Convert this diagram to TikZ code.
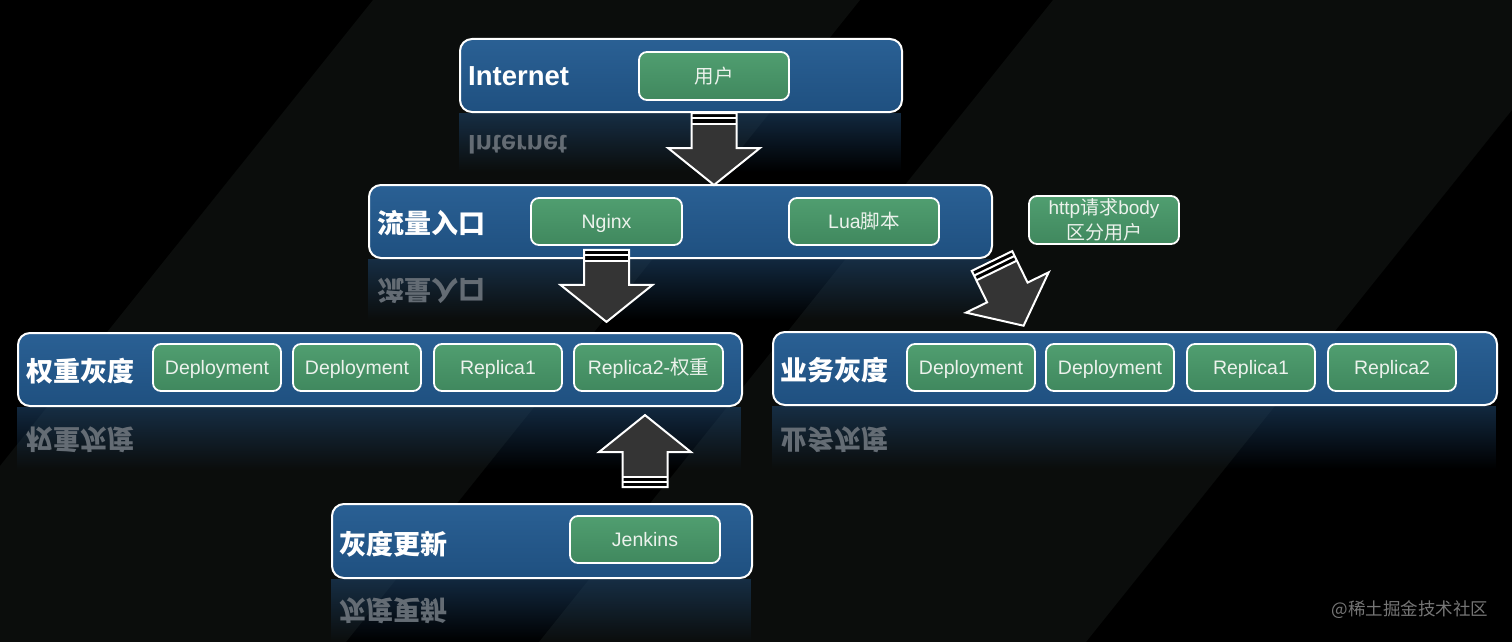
\documentclass[tikz,border=0pt]{standalone}
\usepackage{fontspec}
\setmainfont{Liberation Sans}
\newfontfamily\cjk{Noto Sans CJK SC}
\usetikzlibrary{calc,fadings}
\definecolor{bandgray}{RGB}{11,13,12}
\definecolor{bluetop}{RGB}{42,96,148}
\definecolor{bluebot}{RGB}{31,80,128}
\definecolor{greentop}{RGB}{80,158,112}
\definecolor{greenbot}{RGB}{64,136,94}
\definecolor{arrowgray}{RGB}{52,52,52}
\definecolor{reflblue}{RGB}{30,68,106}
\definecolor{reflgray}{RGB}{100,108,116}
\definecolor{gtext}{RGB}{236,242,236}
\definecolor{wmgray}{RGB}{118,118,118}
\tikzfading[name=reflfade, top color=transparent!40, bottom color=transparent!100]
\tikzset{
  bluebox/.style={draw=white, line width=2pt, rounded corners=12pt, top color=bluetop, bottom color=bluebot, anchor=north west, inner sep=0pt},
  gbox/.style={draw=white, line width=1.8pt, rounded corners=8pt, top color=greentop, bottom color=greenbot, minimum height=47pt, minimum width=128pt, text=gtext, font=\fontsize{19.5}{24}\selectfont, inner sep=0pt, text height=18pt, text depth=4pt},
  lbl/.style={anchor=west, text=white, inner sep=0pt, font=\fontsize{27}{30}\selectfont\bfseries},
  refl/.style={anchor=west, text=reflgray, inner sep=0pt, font=\fontsize{27}{30}\selectfont\bfseries},
  blockarrow/.pic={
    \fill[arrowgray] (-22.5,0) -- (22.5,0) -- (22.5,35) -- (46,35) -- (0,72) -- (-46,35) -- (-22.5,35) -- cycle;
    \fill[black] (-22.5,0) rectangle (22.5,11.5);
    \fill[white] (-22.5,4.3) rectangle (22.5,6.3);
    \fill[white] (-22.5,9.6) rectangle (22.5,11.6);
    \draw[white, line width=2pt, line join=miter] (-22.5,0) -- (22.5,0) -- (22.5,35) -- (46,35) -- (0,72) -- (-46,35) -- (-22.5,35) -- cycle;
  }
}
\begin{document}
\begin{tikzpicture}[x=1pt,y=-1pt]
\useasboundingbox (0,0) rectangle (1512,642);
% background
\fill[black] (0,0) rectangle (1512,642);
\begin{scope}
\clip (0,0) rectangle (1512,642);
\fill[bandgray] (373,0) -- (860,0) -- (346,642) -- (-141,642) -- cycle;
\fill[bandgray] (1053,0) -- (1600,0) -- (1086,642) -- (539,642) -- cycle;
\end{scope}

% reflections
\fill[reflblue, path fading=reflfade] (459,113) rectangle (901,172);
\fill[reflblue, path fading=reflfade] (368,259) rectangle (991,320);
\fill[reflblue, path fading=reflfade] (17,407) rectangle (741,470);
\fill[reflblue, path fading=reflfade] (772,406) rectangle (1496,469);
\fill[reflblue, path fading=reflfade] (331,579) rectangle (751,642);
\node[refl] (inetr) at (468,145) {\scalebox{1}[-1]{Internet}};
\node[refl] (flowr) at (377,291) {\scalebox{1}[-1]{\cjk 流量入口}};
\node[refl] (wgtr) at (26,440) {\scalebox{1}[-1]{\cjk 权重灰度}};
\node[refl] (bizr) at (780,440) {\scalebox{1}[-1]{\cjk 业务灰度}};
\node[refl] (updr) at (339,611) {\scalebox{1}[-1]{\cjk 灰度更新}};

% blue boxes
\node[bluebox, minimum width=442pt, minimum height=73pt] (inet) at (459,38) {};
\node[bluebox, minimum width=623pt, minimum height=73pt] (flow) at (368,184) {};
\node[bluebox, minimum width=724pt, minimum height=73pt] (wgt) at (17,332) {};
\node[bluebox, minimum width=724pt, minimum height=73pt] (biz) at (772,331) {};
\node[bluebox, minimum width=420pt, minimum height=74pt] (upd) at (331,503) {};

% labels
\node[lbl, font=\fontsize{27.5}{30}\selectfont\bfseries] (inetl) at ([xshift=9pt,yshift=-1pt]inet.west) {Internet};
\node[lbl] (flowl) at ([xshift=9pt,yshift=-2pt]flow.west) {\cjk\bfseries 流量入口};
\node[lbl] (wgtl) at ([xshift=9pt,yshift=-2pt]wgt.west) {\cjk\bfseries 权重灰度};
\node[lbl] (bizl) at ([xshift=8pt,yshift=-2pt]biz.west) {\cjk\bfseries 业务灰度};
\node[lbl] (updl) at ([xshift=8pt,yshift=-3pt]upd.west) {\cjk\bfseries 灰度更新};

% green boxes
\node[gbox, minimum width=150pt, minimum height=48pt] (user) at (714,76) {\cjk 用户};
\node[gbox, minimum width=151pt] (nginx) at (606.5,221.5) {Nginx};
\node[gbox, minimum width=150pt] (lua) at (864,221.5) {Lua\cjk 脚本};
\node[gbox] (wd1) at (217,367.5) {Deployment};
\node[gbox] (wd2) at (357,367.5) {Deployment};
\node[gbox] (wr1) at (498,367.5) {Replica1};
\node[gbox, minimum width=149pt] (wr2) at (648.5,367.5) {Replica2-{\cjk 权重}};
\node[gbox] (bd1) at (971,367.5) {Deployment};
\node[gbox] (bd2) at (1110,367.5) {Deployment};
\node[gbox] (br1) at (1251,367.5) {Replica1};
\node[gbox] (br2) at (1392,367.5) {Replica2};
\node[gbox, minimum width=150pt] (jenkins) at (645,539.5) {Jenkins};
\node[gbox, minimum width=150pt, minimum height=48pt, text height=, text depth=, align=center, font=\fontsize{19}{24.5}\selectfont] (http) at (1104,220) {http{\cjk 请求}body\\{\cjk 区分用户}};

% block arrows
\coordinate (a1) at (user.south |- inet.south);
\coordinate (a2) at ($(nginx.south)+(0,4)$);
\coordinate (a3) at ($(jenkins.north)+(0,-28)$);
\coordinate (a4) at ($(flow.south east)+(-1,2)$);
\pic at (a1) {blockarrow};
\pic at (a2) {blockarrow};
\pic[rotate=180] at (a3) {blockarrow};
\pic[rotate=26] at (a4) {blockarrow};

% watermark
\node[text=wmgray, inner sep=0pt, font=\fontsize{17.5}{20}\selectfont] (wm) at (1410,610) {\cjk @稀土掘金技术社区};
\end{tikzpicture}
\end{document}
